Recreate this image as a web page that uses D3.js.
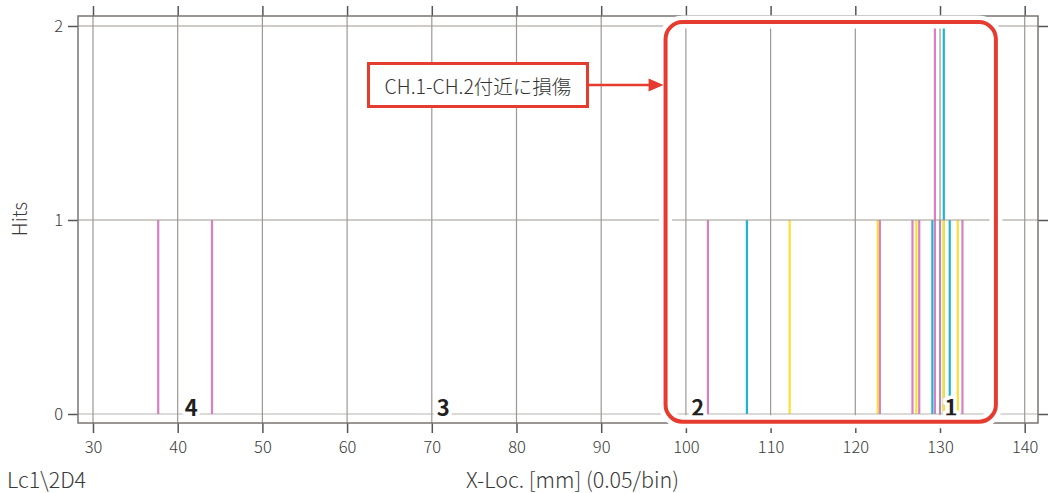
<!DOCTYPE html>
<html lang="ja">
<head>
    <meta charset="UTF-8">
    <title>Hits</title>
    <style>
        body {
            margin: 0;
            background: #fff;
            font-family: 'Noto Sans CJK JP', 'Noto Sans', sans-serif;
        }
        .tick text {
            font: 300 16.5px 'Noto Sans CJK JP', sans-serif;
            fill: #3a3a3a;
        }
        .tick line {
            stroke: #555;
            stroke-width: 1.5;
        }
        .grid line {
            stroke: #9e9893;
            stroke-width: 1.2;
        }
        .label {
            font: bold 22px 'Noto Sans CJK JP', sans-serif;
            fill: #231f20;
            stroke: #fff;
            stroke-width: 7;
            stroke-linejoin: round;
            paint-order: stroke;
        }
        .title {
            font: 300 21.5px 'Noto Sans CJK JP', sans-serif;
            fill: #3a3a3a;
        }
    </style>
</head>
<body>
    <div id="chart"></div>

    <script src="https://d3js.org/d3.v7.min.js"></script>
    <script>
        // данные
        const xTicks = [30, 40, 50, 60, 70, 80, 90, 100, 110, 120, 130, 140];
        const yTicks = [0, 1, 2];

        const hitPos     = [37.7, 44.05, 102.6, 107.2, 112.25, 122.65, 122.9, 126.75, 127.2, 127.55, 129.1, 129.4, 130.0, 130.45, 130.45, 131.15, 132.1, 132.65];
        const hitCount   = [1, 1, 1, 1, 1, 1, 1, 1, 1, 1, 1, 2, 1, 2, 1, 1, 1, 1];
        const hitChannel = ["M", "M", "M", "C", "Y", "Y", "M", "M", "Y", "M", "C", "M", "M", "C", "Y", "C", "Y", "M"];

        const labelPos  = [41.6, 71.35, 101.4, 131.3];
        const labelText = ["4", "3", "2", "1"];

        const xTitle = "X-Loc. [mm] (0.05/bin)";
        const yTitle = "Hits";
        const runName = "Lc1\\2D4";
        const note = "CH.1-CH.2付近に損傷";
        const noteRange = [97.6, 136.6];   // область повреждения
        const noteHits = [-0.04, 2.02];

        const W = 1050, H = 493;
        const pl = 78, pr = 1038, pt = 16, pb = 423;

        const svg = d3.select("#chart")
          .append("svg")
            .attr("width", W)
            .attr("height", H);

        const x = d3.scaleLinear().domain([28.23, 141.57]).range([pl, pr]);
        const y = d3.scaleLinear().domain([-0.0464, 2.0515]).range([pb, pt]);

        const color = d3.scaleOrdinal()
            .domain(["M", "C", "Y"])
            .range(["#d97fc4", "#1db6d0", "#ffe02e"]);

        const hits = hitPos.map((p, i) => ({pos: p, count: hitCount[i], ch: hitChannel[i]}));

        // линии попаданий
        svg.append("g")
          .selectAll("line")
          .data(hits)
          .join("line")
            .attr("x1", d => x(d.pos))
            .attr("x2", d => x(d.pos))
            .attr("y1", y(0))
            .attr("y2", d => y(d.count))
            .attr("stroke", d => color(d.ch))
            .attr("stroke-width", 2.2);

        // сетка
        const grid = svg.append("g").attr("class", "grid");
        grid.selectAll(".vx")
          .data(xTicks)
          .join("line")
            .attr("class", "vx")
            .attr("x1", d => x(d)).attr("x2", d => x(d))
            .attr("y1", pt).attr("y2", pb);
        grid.selectAll(".hy")
          .data(yTicks)
          .join("line")
            .attr("class", "hy")
            .attr("x1", pl).attr("x2", pr)
            .attr("y1", d => y(d)).attr("y2", d => y(d))
            .attr("stroke-opacity", d => d === 0 ? 0.7 : 1);

        // оси
        svg.append("g")
            .attr("transform", `translate(0,${pb})`)
            .call(d3.axisBottom(x).tickValues(xTicks).tickSize(10).tickPadding(8))
            .call(g => g.select(".domain").remove());
        svg.append("g")
            .attr("transform", `translate(0,${pt})`)
            .call(d3.axisTop(x).tickValues(xTicks).tickSize(10).tickFormat(""))
            .call(g => g.select(".domain").remove());
        svg.append("g")
            .attr("transform", `translate(${pl},0)`)
            .call(d3.axisLeft(y).tickValues(yTicks).tickSize(10).tickPadding(5).tickFormat(d3.format("d")))
            .call(g => g.select(".domain").remove());
        svg.append("g")
            .attr("transform", `translate(${pr},0)`)
            .call(d3.axisRight(y).tickValues(yTicks).tickSize(10).tickFormat(""))
            .call(g => g.select(".domain").remove());

        svg.append("rect")
            .attr("x", pl).attr("y", pt)
            .attr("width", pr - pl).attr("height", pb - pt)
            .attr("fill", "none")
            .attr("stroke", "#7a7470")
            .attr("stroke-width", 1.5);

        // номера каналов
        svg.selectAll(".label")
          .data(labelPos)
          .join("text")
            .attr("class", "label")
            .attr("x", d => x(d))
            .attr("y", y(0) + 2)
            .attr("text-anchor", "middle")
            .text((d, i) => labelText[i]);

        // красная рамка
        const bx = x(noteRange[0]), bw = x(noteRange[1]) - bx;
        const by = y(noteHits[1]), bh = y(noteHits[0]) - by;
        svg.append("rect")
            .attr("x", bx).attr("y", by).attr("width", bw).attr("height", bh)
            .attr("rx", 17)
            .attr("fill", "none").attr("stroke", "#fff").attr("stroke-width", 13);
        svg.append("rect")
            .attr("x", bx).attr("y", by).attr("width", bw).attr("height", bh)
            .attr("rx", 17)
            .attr("fill", "none").attr("stroke", "#e63c2f").attr("stroke-width", 4);

        // подпись со стрелкой
        const ny = 85;
        svg.append("rect")
            .attr("x", 368.5).attr("y", 63.5)
            .attr("width", 219).attr("height", 43)
            .attr("fill", "#fff")
            .attr("stroke", "#e63c2f").attr("stroke-width", 3);
        svg.append("text")
            .attr("x", 478).attr("y", ny)
            .attr("text-anchor", "middle")
            .attr("dominant-baseline", "central")
            .style("font", "300 19.5px 'Noto Sans CJK JP', sans-serif")
            .attr("fill", "#333")
            .text(note);

        svg.append("line")
            .attr("x1", 588).attr("x2", bx - 14)
            .attr("y1", ny).attr("y2", ny)
            .attr("stroke", "#e63c2f").attr("stroke-width", 2.5);
        svg.append("path")
            .attr("d", `M${bx - 2},${ny} L${bx - 17},${ny - 6.5} L${bx - 17},${ny + 6.5} Z`)
            .attr("fill", "#e63c2f");

        // заголовки осей
        svg.append("text")
            .attr("class", "title")
            .attr("transform", "translate(27,219) rotate(-90)")
            .attr("text-anchor", "middle")
            .style("font-size", "19.5px")
            .text(yTitle);
        svg.append("text")
            .attr("class", "title")
            .attr("x", 572.5).attr("y", 488)
            .attr("text-anchor", "middle")
            .text(xTitle);
        svg.append("text")
            .attr("class", "title")
            .attr("x", 7).attr("y", 488)
            .text(runName);
    </script>
</body>
</html>
